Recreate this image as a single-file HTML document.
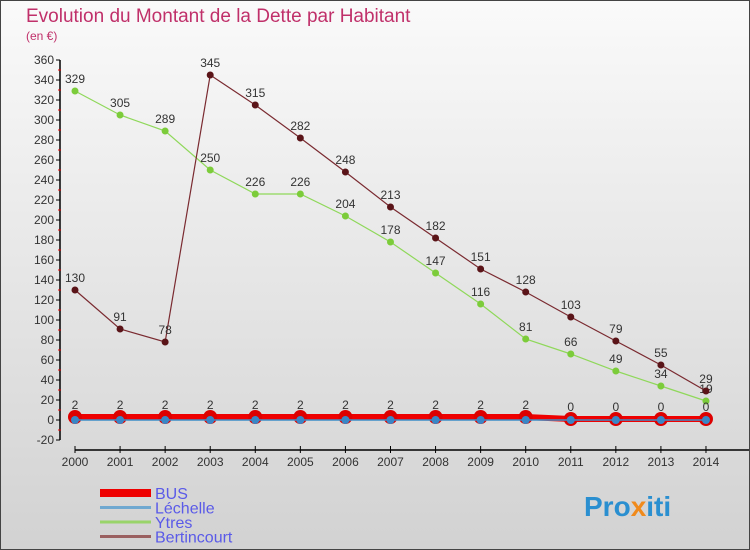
<!DOCTYPE html>
<html><head><meta charset="utf-8"><style>
body{margin:0;}
#c{width:750px;height:550px;position:relative;background:linear-gradient(#fafafa,#d2d2d2);border:1px solid #444;box-sizing:border-box;font-family:"Liberation Sans",sans-serif;overflow:hidden}
</style></head><body>
<div id="c">
<svg id="s" width="750" height="550" style="position:absolute;left:-1px;top:-1px">
<text x="26" y="22" font-size="19" fill="#c0306a">Evolution du Montant de la Dette par Habitant</text>
<text x="26" y="40" font-size="12" fill="#c0306a">(en €)</text>
<g id="axes"></g><g id="series"></g><g id="legend"></g>
<text x="584" y="516" font-size="28" font-weight="bold" fill="#2a8fd0">Pro<tspan fill="#f08a1c">x</tspan>iti</text>
</svg></div>
<script>
const years=[2000,2001,2002,2003,2004,2005,2006,2007,2008,2009,2010,2011,2012,2013,2014];
const bus=[3,3,3,3,3,3,3,3,3,3,3,1,1,1,1];
const lechelle=[0,0,0,0,0,0,0,0,0,0,0,0,0,0,0];
const ytres=[329,305,289,250,226,226,204,178,147,116,81,66,49,34,19];
const bert=[130,91,78,345,315,282,248,213,182,151,128,103,79,55,29];
const busLabels=["2","2","2","2","2","2","2","2","2","2","2","0","0","0","0"];
const yTicks=[-20,0,20,40,60,80,100,120,140,160,180,200,220,240,260,280,300,320,340,360];
const NS="http://www.w3.org/2000/svg";
const X=i=>75+i*45.07, Y=v=>420-v;
function mk(t,a,p){const e=document.createElementNS(NS,t);for(const k in a)e.setAttribute(k,a[k]);p.appendChild(e);return e;}
const ax=document.getElementById('axes'),sg=document.getElementById('series'),lg=document.getElementById('legend');
let l=mk('line',{x1:60,y1:Y(360),x2:60,y2:Y(-20),stroke:'#000','stroke-width':1.5},ax);


yTicks.forEach(v=>{
 const t=mk('line',{x1:56,x2:60,y1:Y(v),y2:Y(v),stroke:'#000'},ax);
 
 
 if(v<360){
 const m=mk('line',{x1:58,x2:61,y1:Y(v+10),y2:Y(v+10),stroke:'#e00'},ax);
 
 
 }
 const tx=mk('text',{x:54,y:Y(v)+4,'font-size':12,'text-anchor':'end',fill:'#333'},ax);tx.textContent=v;
 
 
});
l=mk('line',{x1:75,y1:450,x2:750,y2:450,stroke:'#000','stroke-width':1.5},ax);


years.forEach((y,i)=>{
 const t=mk('line',{x1:X(i),x2:X(i),y1:446,y2:453,stroke:'#000'},ax);
 
 
 const tx=mk('text',{x:X(i),y:466,'font-size':12,'text-anchor':'middle',fill:'#333'},ax);tx.textContent=y;
 
 
});
function series(name,vals,color,w,r,dot,labels){
 const p=mk('polyline',{points:vals.map((v,i)=>X(i)+','+Y(v)).join(' '),fill:'none',stroke:color,'stroke-width':w},sg);
 
 
 vals.forEach((v,i)=>{
  const c=mk('circle',{cx:X(i),cy:Y(v),r:r,fill:dot},sg);
  
  
  if(labels){const t=mk('text',{x:X(i),y:Y(v)-8,'font-size':12,'text-anchor':'middle',fill:'#333'},sg);t.textContent=labels[i];
  
  }
 });
}
series('ytres',ytres,'#8fd85a',1.2,3.5,'#7ccc3a',ytres);
series('bertincourt',bert,'#7a2a30',1.2,3.5,'#5a1418',bert);
series('bus',bus,'#ee0000',6,7,'#dd0000',busLabels);
series('lechelle',lechelle,'#3d8ec8',1.5,4,'#3a86c6',null);
const leg=[['BUS','#ee0000',8],['Léchelle','#6fa8d0',3],['Ytres','#99d46a',3],['Bertincourt','#9a6060',3]];
leg.forEach((e,i)=>{
 const y=493+i*14.5;
 const ln=mk('line',{x1:100,x2:151,y1:y,y2:y,stroke:e[1],'stroke-width':e[2]},lg);
 
 
 const t=mk('text',{x:155,y:y+6,'font-size':16,fill:'#5a5ae8'},lg);t.textContent=e[0];
 
 
});
</script>
</body></html>
